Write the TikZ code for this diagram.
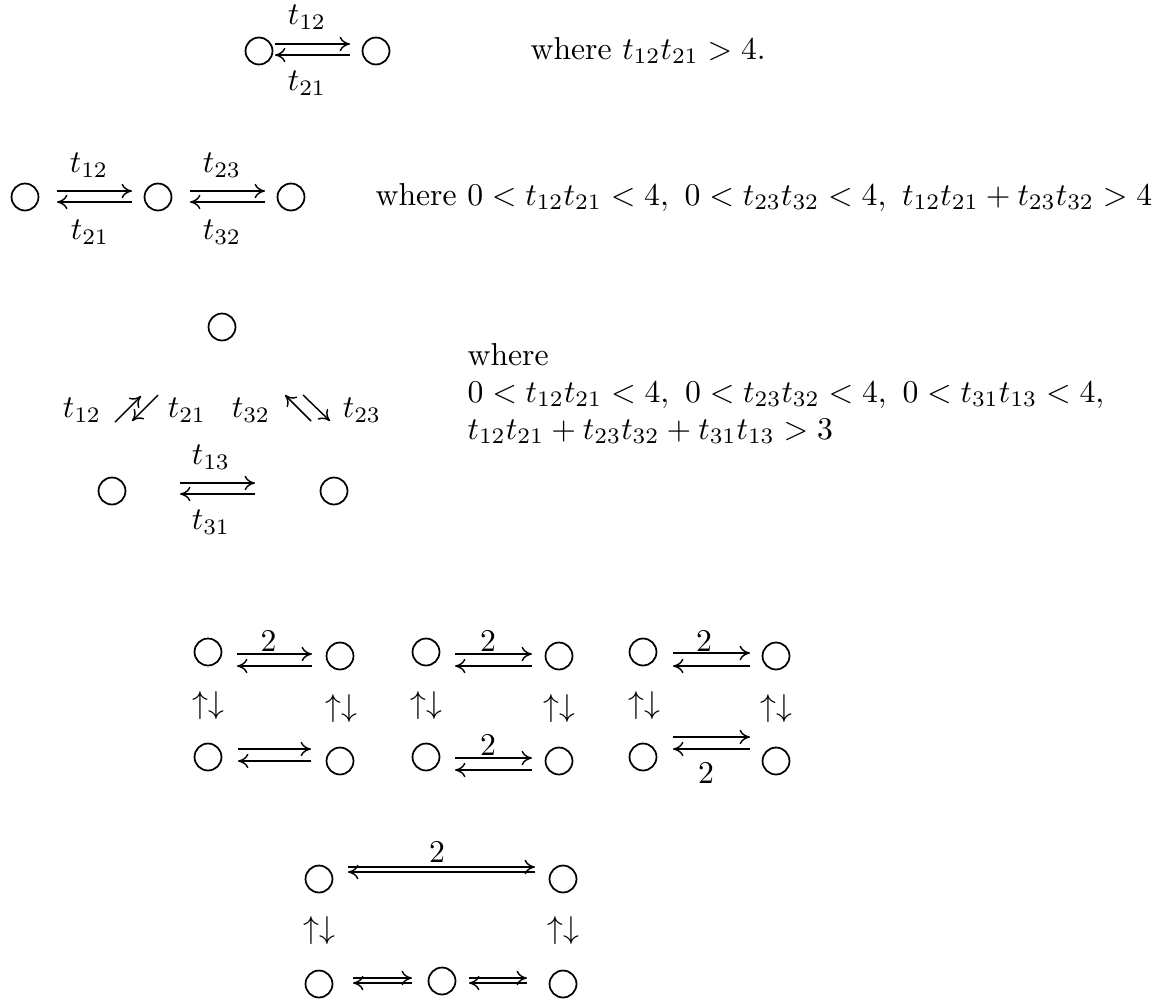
\documentclass[tikz,border=0pt]{standalone}
\usetikzlibrary{arrows.meta}
\tikzset{
  vtx/.style={circle,draw,line width=0.55pt,minimum size=8.5pt,inner sep=0pt},
  ar/.style={line width=0.45pt,-{Computer Modern Rightarrow[length=3.3pt,width=4.6pt]}},
  lbl/.style={inner sep=0pt},
  txt/.style={inner sep=0pt,anchor=base west},
}
% pair of opposite arrows: name, x-left, x-right, y-top, y-bottom
\newcommand\rlpair[5]{%
  \coordinate (#1ts) at (#2,#4); \coordinate (#1te) at (#3,#4);
  \coordinate (#1bs) at (#3,#5); \coordinate (#1be) at (#2,#5);
  \draw[ar] (#1ts) -- (#1te);
  \draw[ar] (#1bs) -- (#1be);}
\begin{document}
\begin{tikzpicture}[x=0.3155pt,y=-0.3155pt]
\fill[white] (0,0) rectangle (1168,1003);
\useasboundingbox (0,0) rectangle (1168,1003);

% ---- Row 1
\node[vtx] (A1) at (259,51) {};
\node[vtx] (A2) at (376,51) {};
\rlpair{a}{275}{350}{44}{55}
\node[lbl] (a12) at (307,17.5) {$t_{12}$};
\node[lbl] (a21) at (307,83) {$t_{21}$};
\node[txt] (w1) at (530,59) {where $t_{12}t_{21}>4$.};

% ---- Row 2
\node[vtx] (B1) at (25,197) {};
\node[vtx] (B2) at (158,197) {};
\node[vtx] (B3) at (291,197) {};
\rlpair{b}{57}{132}{191}{202}
\rlpair{c}{190}{265}{191}{202}
\node[lbl] (b12) at (89,165) {$t_{12}$};
\node[lbl] (b21) at (90,232) {$t_{21}$};
\node[lbl] (b23) at (222,165) {$t_{23}$};
\node[lbl] (b32) at (222,232) {$t_{32}$};
\node[txt] (w2) at (375,205) {where $0<t_{12}t_{21}<4,\ 0<t_{23}t_{32}<4,\ t_{12}t_{21}+t_{23}t_{32}>4$};

% ---- Row 3
\node[vtx] (C1) at (222,327) {};
\node[vtx] (C2) at (112,491) {};
\node[vtx] (C3) at (334,491) {};
\node[lbl] (c12) at (82,410) {$t_{12}$};
\node[lbl] (c21) at (187,410) {$t_{21}$};
\node[lbl] (c32) at (251,410) {$t_{32}$};
\node[lbl] (c23) at (362,410) {$t_{23}$};
\coordinate (ne1s) at (115,422); \coordinate (ne1e) at (141,396);
\draw[ar] (ne1s) -- (ne1e);
\coordinate (sw1s) at (158,395); \coordinate (sw1e) at (132,421);
\draw[ar] (sw1s) -- (sw1e);
\coordinate (nw1s) at (311,421); \coordinate (nw1e) at (285,395);
\draw[ar] (nw1s) -- (nw1e);
\coordinate (se1s) at (303,395); \coordinate (se1e) at (330,421);
\draw[ar] (se1s) -- (se1e);
\rlpair{d}{180}{255}{483}{494}
\node[lbl] (c13) at (211,457) {$t_{13}$};
\node[lbl] (c31) at (211,522) {$t_{31}$};
\node[txt] (w3a) at (467,365) {where};
\node[txt] (w3b) at (467,402) {$0<t_{12}t_{21}<4,\ 0<t_{23}t_{32}<4,\ 0<t_{31}t_{13}<4,$};
\node[txt] (w3c) at (467,439) {$t_{12}t_{21}+t_{23}t_{32}+t_{31}t_{13}>3$};

% ---- Row 4, square 1
\node[vtx] (D1) at (208,652) {};
\node[vtx] (D2) at (340,656) {};
\node[vtx] (D3) at (208,757) {};
\node[vtx] (D4) at (340,761) {};
\rlpair{e}{237}{312}{654}{666}
\node[lbl] (e2) at (268.5,641.5) {$2$};
\rlpair{f}{238}{311}{749}{761}
\node[lbl] (ud1) at (208,706) {$\uparrow\downarrow$};
\node[lbl] (ud2) at (341,709) {$\uparrow\downarrow$};

% ---- Row 4, square 2
\node[vtx] (D5) at (426,652) {};
\node[vtx] (D6) at (559,656) {};
\node[vtx] (D7) at (426,757) {};
\node[vtx] (D8) at (559,761) {};
\rlpair{g}{455}{532}{654}{666}
\node[lbl] (g2) at (488,641.5) {$2$};
\rlpair{h}{455}{532}{758}{770}
\node[lbl] (h2) at (488,745) {$2$};
\node[lbl] (ud3) at (426,706) {$\uparrow\downarrow$};
\node[lbl] (ud4) at (559,709) {$\uparrow\downarrow$};

% ---- Row 4, square 3
\node[vtx] (D9) at (643,652) {};
\node[vtx] (D10) at (776,656) {};
\node[vtx] (D11) at (643,757) {};
\node[vtx] (D12) at (776,761) {};
\rlpair{i}{673}{750}{653}{666}
\node[lbl] (i2) at (704,641) {$2$};
\rlpair{j}{673}{750}{737}{749}
\node[lbl] (j2) at (706,773) {$2$};
\node[lbl] (ud5) at (644,706) {$\uparrow\downarrow$};
\node[lbl] (ud6) at (776,709) {$\uparrow\downarrow$};

% ---- Row 5
\node[vtx] (E1) at (319,879) {};
\node[vtx] (E2) at (563,879) {};
\rlpair{k}{348}{535}{867}{872}
\node[lbl] (k2) at (437,852) {$2$};
\node[lbl] (ud7) at (319,931) {$\uparrow\downarrow$};
\node[lbl] (ud8) at (563,931) {$\uparrow\downarrow$};
\node[vtx] (F1) at (319,984) {};
\node[vtx] (F2) at (442,981) {};
\node[vtx] (F3) at (563,984) {};
\rlpair{l}{353}{412}{978}{983}
\rlpair{m}{469}{527}{978}{983}
\end{tikzpicture}
\end{document}
